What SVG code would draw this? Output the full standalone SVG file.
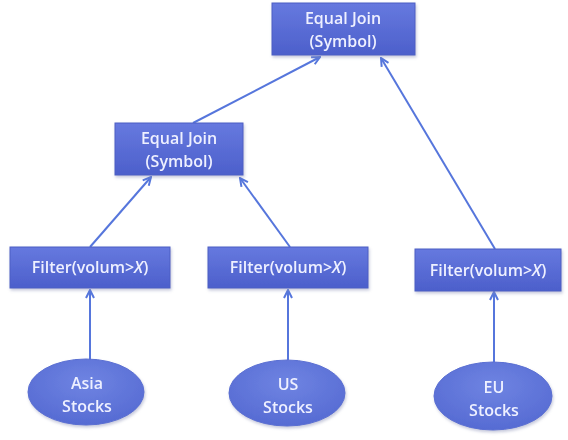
<svg xmlns="http://www.w3.org/2000/svg" width="568" height="440" viewBox="0 0 568 440">
  <style>
    .box { fill: url(#boxFill); stroke: #4d5fc4; stroke-width: 1; }
    .oval { fill: url(#ovalFill); stroke: #5a6fd2; stroke-width: 1; }
    .lbl { font-family: "Open Sans", "Liberation Sans", sans-serif; font-size: 16px; font-weight: 600; fill: #eef0ff; text-anchor: middle; }
    .edge { stroke: #5676dc; stroke-width: 2; fill: none; marker-end: url(#arrow); }
  </style>
  <defs>
    <linearGradient id="boxFill" x1="0" y1="0" x2="0" y2="1">
      <stop offset="0" stop-color="#6679df"/>
      <stop offset="1" stop-color="#4c5fcb"/>
    </linearGradient>
    <radialGradient id="ovalFill" cx="0.5" cy="0.35" r="0.65">
      <stop offset="0" stop-color="#6f84e2"/>
      <stop offset="1" stop-color="#566bd3"/>
    </radialGradient>
    <filter id="shadow" x="-10%" y="-10%" width="125%" height="135%">
      <feDropShadow dx="1" dy="2" stdDeviation="1.5" flood-color="#8088b0" flood-opacity="0.45"/>
    </filter>
    <marker id="arrow" viewBox="0 0 10 10" refX="9" refY="5" markerWidth="5" markerHeight="5" orient="auto">
      <path d="M1,1 L9,5 L1,9" fill="none" stroke="#5676dc" stroke-width="2"/>
    </marker>
  </defs>

  <g id="edges">
    <line class="edge" x1="90" y1="360" x2="90" y2="290"/>
    <line class="edge" x1="288" y1="360" x2="288" y2="290"/>
    <line class="edge" x1="494" y1="362" x2="494" y2="292"/>
    <line class="edge" x1="90" y1="247" x2="151" y2="177"/>
    <line class="edge" x1="290" y1="247" x2="240" y2="178"/>
    <line class="edge" x1="193" y1="123" x2="320" y2="57"/>
    <line class="edge" x1="495" y1="249" x2="381" y2="58"/>
  </g>

  <g id="join-top" filter="url(#shadow)">
    <rect class="box" x="272" y="3" width="143" height="52"/>
    <text class="lbl" x="343" y="24">Equal Join</text>
    <text class="lbl" x="343" y="47">(Symbol)</text>
  </g>

  <g id="join-mid" filter="url(#shadow)">
    <rect class="box" x="115" y="123" width="128" height="52"/>
    <text class="lbl" x="179" y="144">Equal Join</text>
    <text class="lbl" x="179" y="167">(Symbol)</text>
  </g>

  <g id="filter-asia" filter="url(#shadow)">
    <rect class="box" x="10" y="247" width="160" height="41"/>
    <text class="lbl" x="90" y="273">Filter(volum&gt;<tspan font-style="italic">X</tspan>)</text>
  </g>

  <g id="filter-us" filter="url(#shadow)">
    <rect class="box" x="208" y="247" width="160" height="41"/>
    <text class="lbl" x="288" y="273">Filter(volum&gt;<tspan font-style="italic">X</tspan>)</text>
  </g>

  <g id="filter-eu" filter="url(#shadow)">
    <rect class="box" x="415" y="249" width="146" height="42"/>
    <text class="lbl" x="488" y="276">Filter(volum&gt;<tspan font-style="italic">X</tspan>)</text>
  </g>

  <g id="asia-stocks" filter="url(#shadow)">
    <ellipse class="oval" cx="86" cy="392" rx="58" ry="33"/>
    <text class="lbl" x="87" y="389">Asia</text>
    <text class="lbl" x="87" y="412">Stocks</text>
  </g>

  <g id="us-stocks" filter="url(#shadow)">
    <ellipse class="oval" cx="287" cy="393" rx="58" ry="33"/>
    <text class="lbl" x="288" y="390">US</text>
    <text class="lbl" x="288" y="413">Stocks</text>
  </g>

  <g id="eu-stocks" filter="url(#shadow)">
    <ellipse class="oval" cx="493" cy="396" rx="59" ry="34"/>
    <text class="lbl" x="494" y="393">EU</text>
    <text class="lbl" x="494" y="416">Stocks</text>
  </g>
</svg>
